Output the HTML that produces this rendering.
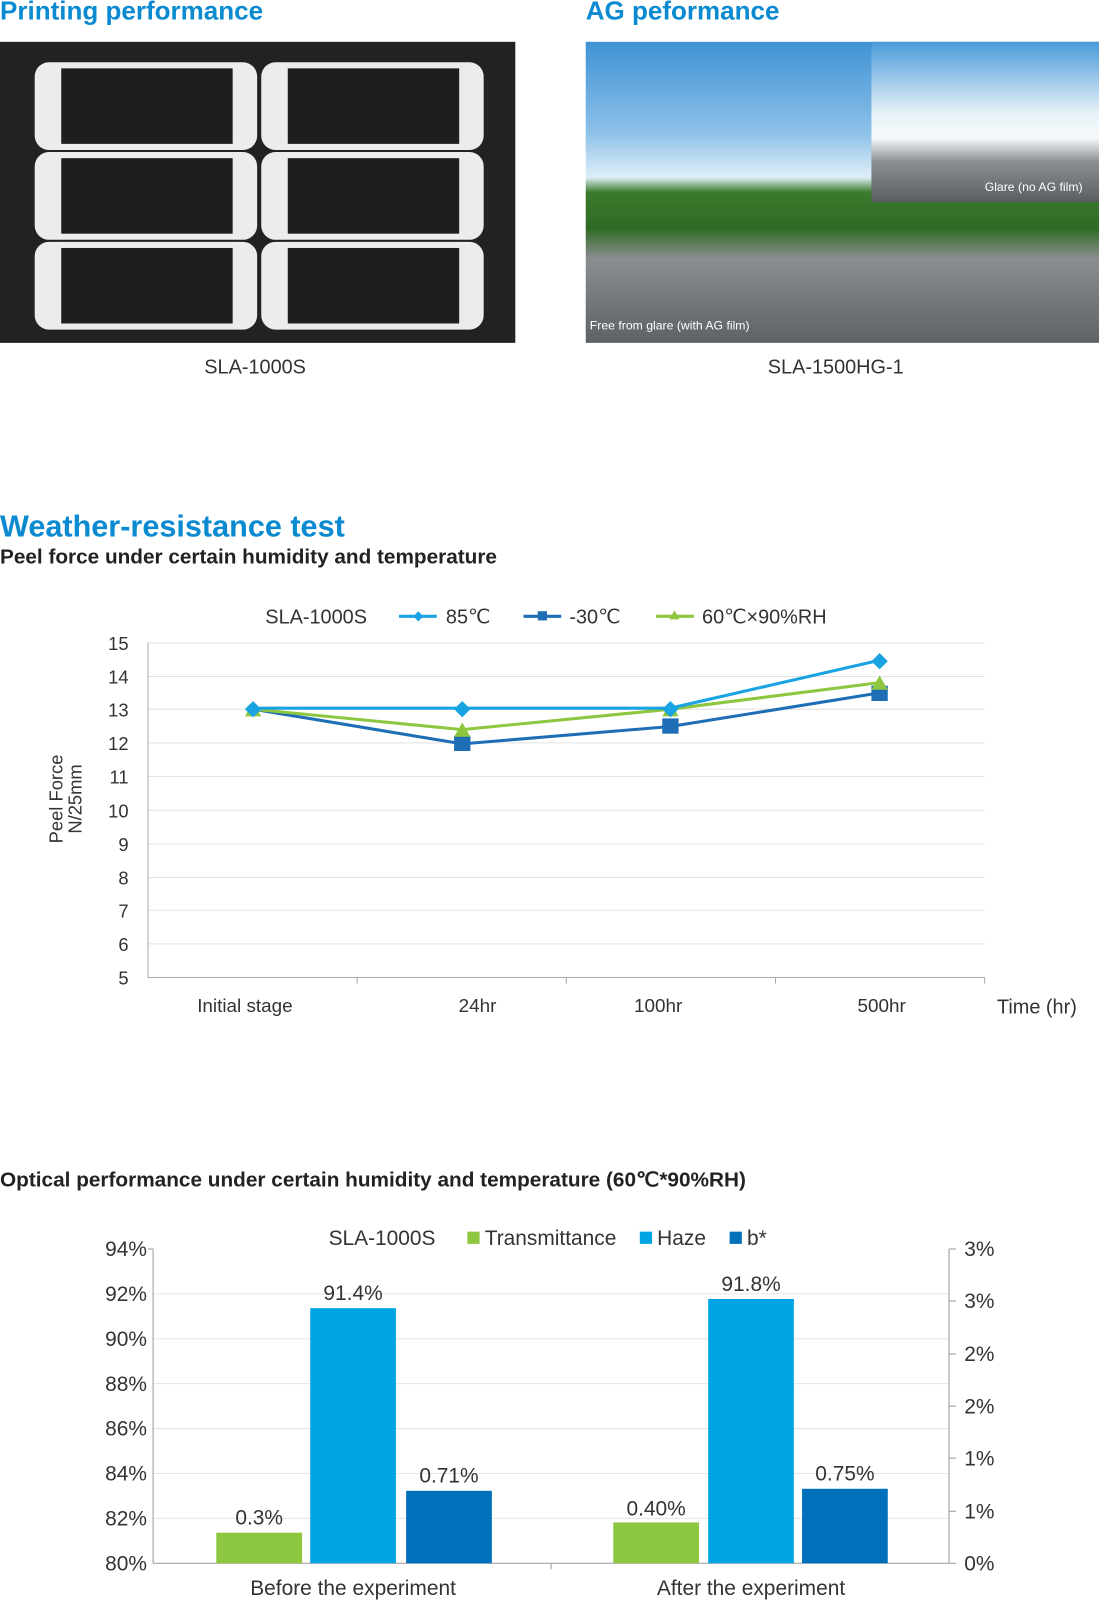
<!DOCTYPE html>
<html><head><meta charset="utf-8"><style>
body{margin:0;width:1099px;height:1600px;background:#fff;overflow:hidden}
svg{display:block}
</style></head><body>
<svg width="1099" height="1600" viewBox="0 0 1077 1568" font-family="Liberation Sans, sans-serif" fill="#333">
<defs>
<linearGradient id="g1" x1="0" y1="0" x2="0" y2="1"><stop offset="0" stop-color="#3f93d6"/><stop offset=".3" stop-color="#8cc0e8"/><stop offset=".45" stop-color="#dfeef8"/><stop offset=".5" stop-color="#3b7a2c"/><stop offset=".62" stop-color="#2f6a25"/><stop offset=".72" stop-color="#8a8e90"/><stop offset="1" stop-color="#5d6266"/></linearGradient>
<linearGradient id="g2" x1="0" y1="0" x2="0" y2="1"><stop offset="0" stop-color="#4a9ad8"/><stop offset=".45" stop-color="#e8f2f8"/><stop offset=".6" stop-color="#f5f9fb"/><stop offset=".75" stop-color="#8a8f90"/><stop offset="1" stop-color="#5a5e62"/></linearGradient>
</defs>
<g font-weight="bold" fill="#0a8ad0"><text x="0" y="19" font-size="25.5">Printing performance</text><text x="574" y="19" font-size="25.5">AG peformance</text>
<text x="0" y="526" font-size="30">Weather-resistance test</text></g>
<g font-weight="bold" fill="#222" font-size="19.7"><text x="0" y="552" textLength="487" lengthAdjust="spacingAndGlyphs">Peel force under certain humidity and temperature</text><text x="0" y="1163" textLength="731" lengthAdjust="spacingAndGlyphs">Optical performance under certain humidity and temperature (60℃*90%RH)</text></g>
<rect x="0" y="41" width="505" height="295" fill="#222"/>
<g fill="#ececec"><rect x="34" y="61" width="218" height="86" rx="14"/><rect x="256" y="61" width="218" height="86" rx="14"/><rect x="34" y="149" width="218" height="86" rx="14"/><rect x="256" y="149" width="218" height="86" rx="14"/><rect x="34" y="237" width="218" height="86" rx="14"/><rect x="256" y="237" width="218" height="86" rx="14"/></g>
<g fill="#1e1e1e"><rect x="60" y="67" width="168" height="74"/><rect x="282" y="67" width="168" height="74"/><rect x="60" y="155" width="168" height="74"/><rect x="282" y="155" width="168" height="74"/><rect x="60" y="243" width="168" height="74"/><rect x="282" y="243" width="168" height="74"/></g>
<rect x="574" y="41" width="503" height="295" fill="url(#g1)"/>
<rect x="854" y="41" width="223" height="157" fill="url(#g2)"/>
<text x="965" y="187" font-size="12" fill="#fff">Glare (no AG film)</text>
<text x="578" y="323" font-size="12" fill="#fff">Free from glare (with AG film)</text>
<text x="250" y="366" font-size="19.5" text-anchor="middle">SLA-1000S</text>
<text x="819" y="366" font-size="19.5" text-anchor="middle">SLA-1500HG-1</text>

<g stroke="#e2e2e2">
<line x1="145" x2="965" y1="630" y2="630"/><line x1="145" x2="965" y1="663" y2="663"/><line x1="145" x2="965" y1="695" y2="695"/><line x1="145" x2="965" y1="728" y2="728"/><line x1="145" x2="965" y1="761" y2="761"/><line x1="145" x2="965" y1="794" y2="794"/><line x1="145" x2="965" y1="827" y2="827"/><line x1="145" x2="965" y1="860" y2="860"/><line x1="145" x2="965" y1="892" y2="892"/><line x1="145" x2="965" y1="925" y2="925"/>
</g>
<g stroke="#aaa"><line x1="145" x2="145" y1="630" y2="958"/><line x1="145" x2="965" y1="958" y2="958"/>
<line x1="350" x2="350" y1="958" y2="964"/><line x1="555" x2="555" y1="958" y2="964"/><line x1="760" x2="760" y1="958" y2="964"/><line x1="965" x2="965" y1="958" y2="964"/></g>
<g font-size="18" text-anchor="end">
<text x="126" y="637">15</text><text x="126" y="670">14</text><text x="126" y="702">13</text><text x="126" y="735">12</text><text x="126" y="768">11</text><text x="126" y="801">10</text><text x="126" y="834">9</text><text x="126" y="867">8</text><text x="126" y="899">7</text><text x="126" y="932">6</text><text x="126" y="965">5</text></g>
<text transform="translate(61,783) rotate(-90)" font-size="18" text-anchor="middle">Peel Force</text>
<text transform="translate(80,783) rotate(-90)" font-size="18" text-anchor="middle">N/25mm</text>
<g font-size="18.5" text-anchor="middle"><text x="240" y="992">Initial stage</text><text x="468" y="992">24hr</text><text x="645" y="992">100hr</text><text x="864" y="992">500hr</text></g>
<text x="977" y="993" font-size="19.5">Time (hr)</text>
<g font-size="19.5"><text x="260" y="611">SLA-1000S</text><text x="437" y="611">85℃</text><text x="558" y="611">-30℃</text><text x="688" y="611">60℃×90%RH</text></g>
<line x1="391" x2="428" y1="604" y2="604" stroke="#1aa3e2" stroke-width="3"/><path d="M410 599l5 5-5 5-5-5z" fill="#1aa3e2"/>
<line x1="513" x2="550" y1="604" y2="604" stroke="#1e6eb6" stroke-width="3"/><rect x="527" y="599" width="9" height="9" fill="#1e6eb6"/>
<line x1="643" x2="680" y1="604" y2="604" stroke="#8dc63f" stroke-width="3"/><path d="M661 598l5 9h-10z" fill="#8dc63f"/>
<polyline points="248,695 453,729 657,712 862,679" fill="none" stroke="#1e6eb6" stroke-width="3"/>
<polyline points="248,695 453,715 657,695 862,669" fill="none" stroke="#8dc63f" stroke-width="3"/>
<polyline points="248,694 453,694 657,694 862,647" fill="none" stroke="#1aa3e2" stroke-width="3"/>
<g fill="#1e6eb6"><rect x="445" y="721" width="16" height="15"/><rect x="649" y="704" width="16" height="15"/><rect x="854" y="672" width="16" height="15"/></g>
<g fill="#8dc63f"><path d="M248 688l8 14h-16z"/><path d="M453 708l8 14h-16z"/><path d="M657 688l8 14h-16z"/><path d="M862 662l8 14h-16z"/></g>
<g fill="#1aa3e2"><path d="M248 687l8 8-8 8-8-8z"/><path d="M453 687l8 8-8 8-8-8z"/><path d="M657 687l8 8-8 8-8-8z"/><path d="M862 640l8 8-8 8-8-8z"/></g>

<g stroke="#e5e5e5"><line x1="150" x2="930" y1="1268" y2="1268"/><line x1="150" x2="930" y1="1312" y2="1312"/><line x1="150" x2="930" y1="1356" y2="1356"/><line x1="150" x2="930" y1="1400" y2="1400"/><line x1="150" x2="930" y1="1444" y2="1444"/><line x1="150" x2="930" y1="1488" y2="1488"/></g>
<g stroke="#999"><line x1="150" x2="150" y1="1224" y2="1532"/><line x1="145" x2="150" y1="1224" y2="1224"/><line x1="150" x2="930" y1="1532" y2="1532"/><line x1="540" x2="540" y1="1532" y2="1538"/>
<line x1="930" x2="930" y1="1224" y2="1532"/><line x1="930" x2="937" y1="1224" y2="1224"/><line x1="930" x2="937" y1="1275" y2="1275"/><line x1="930" x2="937" y1="1327" y2="1327"/><line x1="930" x2="937" y1="1378" y2="1378"/><line x1="930" x2="937" y1="1429" y2="1429"/><line x1="930" x2="937" y1="1481" y2="1481"/><line x1="930" x2="937" y1="1532" y2="1532"/></g>
<g font-size="20.5" text-anchor="end"><text x="144" y="1231">94%</text><text x="144" y="1275">92%</text><text x="144" y="1319">90%</text><text x="144" y="1363">88%</text><text x="144" y="1407">86%</text><text x="144" y="1451">84%</text><text x="144" y="1495">82%</text><text x="144" y="1539">80%</text></g>
<g font-size="20.5"><text x="945" y="1231">3%</text><text x="945" y="1282">3%</text><text x="945" y="1334">2%</text><text x="945" y="1385">2%</text><text x="945" y="1436">1%</text><text x="945" y="1488">1%</text><text x="945" y="1539">0%</text></g>
<g font-size="20.5"><text x="322" y="1220">SLA-1000S</text><rect x="458" y="1207" width="12" height="12" fill="#8dc63f"/><text x="475" y="1220">Transmittance</text><rect x="627" y="1207" width="12" height="12" fill="#00a4e4"/><text x="644" y="1220">Haze</text><rect x="715" y="1207" width="12" height="12" fill="#0070bb"/><text x="732" y="1220">b*</text></g>
<rect x="212" y="1502" width="84" height="30" fill="#8dc63f"/><rect x="304" y="1282" width="84" height="250" fill="#00a4e4"/><rect x="398" y="1461" width="84" height="71" fill="#0070bb"/>
<rect x="601" y="1492" width="84" height="40" fill="#8dc63f"/><rect x="694" y="1273" width="84" height="259" fill="#00a4e4"/><rect x="786" y="1459" width="84" height="73" fill="#0070bb"/>
<g font-size="20.5" text-anchor="middle"><text x="254" y="1494">0.3%</text><text x="346" y="1274">91.4%</text><text x="440" y="1453">0.71%</text><text x="643" y="1485">0.40%</text><text x="736" y="1265">91.8%</text><text x="828" y="1451">0.75%</text>
<text x="346" y="1563">Before the experiment</text><text x="736" y="1563">After the experiment</text></g>
</svg>
</body></html>
